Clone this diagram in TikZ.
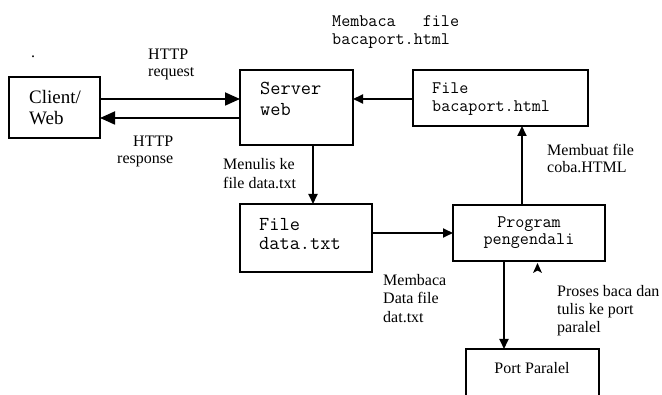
\documentclass[tikz,border=0pt]{standalone}
\usepackage{fontspec}
\setmainfont{Liberation Serif}
\usetikzlibrary{arrows.meta}

\tikzset{
  box/.style={draw, line width=2pt, inner sep=0pt, outer sep=0pt, anchor=north west},
  flow/.style={line width=1.8pt, -{Triangle[length=10pt,width=9pt]}},
  bigflow/.style={line width=1.8pt, -{Triangle[length=15pt,width=13pt]}},
  lbl/.style={anchor=base west, inner sep=0pt, font=\fontsize{16}{18}\selectfont},
  mono/.style={anchor=base west, inner sep=0pt, font=\fontsize{17.6}{20}\ttfamily},
  bigmono/.style={anchor=base west, inner sep=0pt, font=\fontsize{19.8}{22}\ttfamily},
  bigserif/.style={anchor=base west, inner sep=0pt, font=\fontsize{19}{21}\selectfont},
}

\begin{document}
\begin{tikzpicture}[x=1pt, y=-1pt]
\useasboundingbox (0,0) rectangle (662,395);
\begin{scope}
\clip (0,0) rectangle (662,395);

% boxes
\node[box, minimum width=91pt,  minimum height=61pt] (client)   at (9,77)   {};
\node[box, minimum width=113pt, minimum height=75pt] (server)   at (240,70) {};
\node[box, minimum width=175pt, minimum height=56pt] (bacaport) at (413,70) {};
\node[box, minimum width=132pt, minimum height=68pt] (datatxt)  at (240,204) {};
\node[box, minimum width=152pt, minimum height=56pt] (program)  at (453,205) {};
\node[box, minimum width=133pt, minimum height=70pt] (port)     at (466,349) {};

% box texts
\node[bigserif] (t1) at (29,104) {Client/};
\node[bigserif] (t2) at (29,125) {Web};
\node[bigmono] (t3) at (260,95)  {Server};
\node[bigmono] (t4) at (260,116) {web};
\node[mono] (t5) at (432,94)  {File};
\node[mono] (t6) at (432,112) {bacaport.html};
\node[bigmono] (t7) at (259,231) {File};
\node[bigmono] (t8) at (259,250) {data.txt};
\node[mono, anchor=base] (t9)  at (529,228) {Program};
\node[mono, anchor=base] (t10) at (529,245) {pengendali};
\node[lbl, anchor=base] (t11) at (532,374) {Port Paralel};

% connectors
\draw[bigflow] (client.east |- 0,99)  -- (server.west |- 0,99);
\draw[bigflow] (server.west |- 0,118) -- (client.east |- 0,118);
\draw[flow] (bacaport.west |- 0,99) -- (server.east |- 0,99);
\draw[flow] (server.south -| 313,0) -- (datatxt.north -| 313,0);
\draw[flow] (datatxt.east |- 0,233) -- (program.west |- 0,233);
\draw[flow] (program.north -| 522,0) -- (bacaport.south -| 522,0);
\draw[flow] (program.south -| 504,0) -- (port.north -| 504,0);

% loose arrowhead under the program box
\coordinate (tip) at (537.5,263);
\fill (tip) -- ++(4.5,10) -- ++(-4.5,-2.5) -- ++(-4.5,2.5) -- cycle;

% labels
\node[lbl] (l1) at (148,60) {HTTP};
\node[lbl] (l2) at (148,77) {request};
\node[lbl] (l3) at (133,147) {HTTP};
\node[lbl] (l4) at (117,164) {response};
\node[lbl] (l5) at (223,170) {Menulis ke};
\node[lbl] (l6) at (223,189) {file data.txt};
\node[mono] (l7) at (332,27) {Membaca\ \ \ file};
\node[mono] (l8) at (332,45) {bacaport.html};
\node[lbl] (l9)  at (547,156) {Membuat file};
\node[lbl] (l10) at (547,173) {coba.HTML};
\node[lbl] (l11) at (383,286) {Membaca};
\node[lbl] (l12) at (383,304) {Data file};
\node[lbl] (l13) at (383,323) {dat.txt};
\node[lbl] (l14) at (557,297) {Proses baca dan};
\node[lbl] (l15) at (557,315) {tulis ke port};
\node[lbl] (l16) at (557,333) {paralel};
\node[lbl] (dot) at (31,58) {.};
\end{scope}
\end{tikzpicture}
\end{document}
